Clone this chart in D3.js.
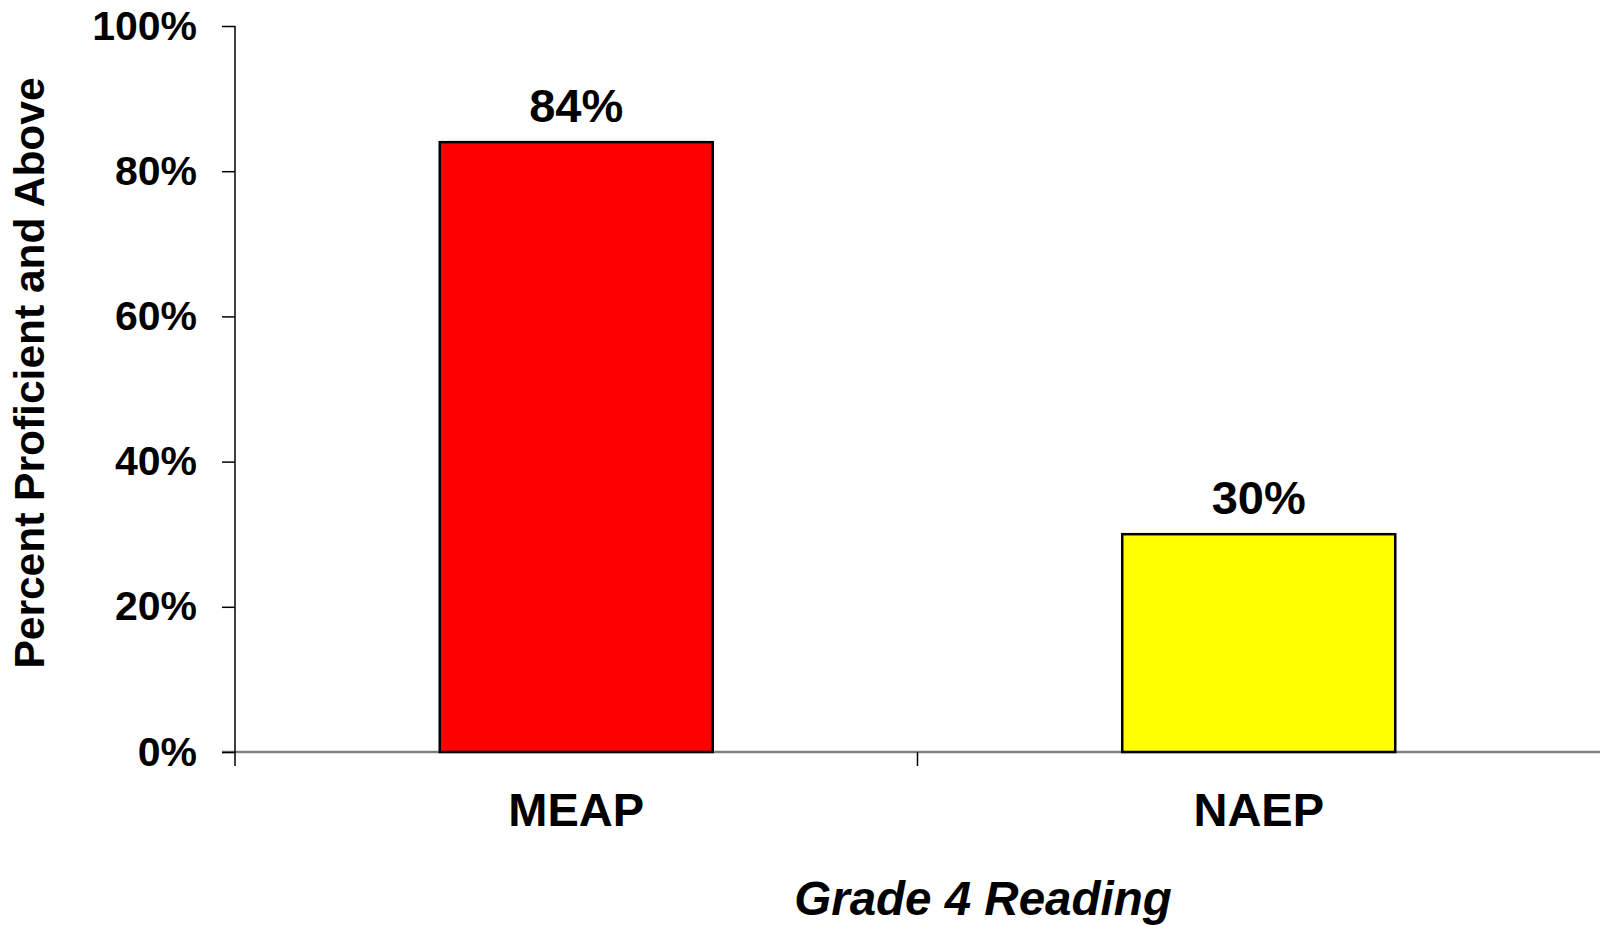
<!DOCTYPE html>
<html>
<head>
<meta charset="utf-8">
<script src="https://cdn.jsdelivr.net/npm/d3@7/dist/d3.min.js"></script>
<style>
  body { margin: 0; background: #fff; }
  svg { display: block; }
  text { font-family: "Liberation Sans", Arial, sans-serif; font-weight: bold; fill: #000; }
</style>
</head>
<body>
<svg id="chart" width="1600" height="925"></svg>
<script>
// data
var categories = ["MEAP", "NAEP"];
var values = [0.84, 0.30];
var barColors = ["#ff0000", "#ffff00"];
var yTicks = [0, 0.2, 0.4, 0.6, 0.8, 1.0];
var yTitle = "Percent Proficient and Above";
var xTitle = "Grade 4 Reading";

var svg = d3.select("#chart");
// plot area (note: "top" is taken by window.top, so use other names)
var plotLeft = 235, plotRight = 1600, plotTop = 26, plotBottom = 752;

var x = d3.scaleBand()
	.domain(categories)
	.range([plotLeft, plotRight])
	.paddingInner(0.6)
	.paddingOuter(0.3);

var y = d3.scaleLinear()
	.domain([0, 1])
	.range([plotBottom, plotTop]);

// x axis line (grey) and category separators
svg.append("line")
	.attr("x1", plotLeft - 13).attr("x2", plotRight)
	.attr("y1", y(0)).attr("y2", y(0))
	.attr("stroke", "#808080")
	.attr("stroke-width", 2.5);

var step = x.step();
var seps = d3.range(1, categories.length).map(function(i) {
	return plotLeft + step * i;
});
svg.selectAll(".xsep")
	.data(seps)
	.enter()
	.append("line")
	.attr("x1", function(d) { return d; })
	.attr("x2", function(d) { return d; })
	.attr("y1", y(0))
	.attr("y2", y(0) + 14)
	.attr("stroke", "#000")
	.attr("stroke-width", 1.5);

// y axis
var yAxis = d3.axisLeft(y)
	.tickValues(yTicks)
	.tickFormat(d3.format(".0%"))
	.tickSize(13)
	.tickPadding(25);

var gy = svg.append("g")
	.attr("transform", "translate(" + plotLeft + ",0)")
	.call(yAxis);
gy.select(".domain").remove();
gy.selectAll(".tick line").attr("stroke", "#000").attr("stroke-width", 1.5);
gy.selectAll(".tick text")
	.attr("font-size", 41)
	.attr("font-family", "Liberation Sans, Arial, sans-serif")
	.attr("font-weight", "bold")
	.attr("fill", "#000");

svg.append("line")
	.attr("x1", plotLeft).attr("x2", plotLeft)
	.attr("y1", plotTop).attr("y2", y(0) + 14)
	.attr("stroke", "#000")
	.attr("stroke-width", 1.5);

// bars
svg.selectAll(".bar")
	.data(values)
	.enter()
	.append("rect")
	.attr("x", function(d, i) { return x(categories[i]); })
	.attr("y", function(d) { return y(d); })
	.attr("width", x.bandwidth())
	.attr("height", function(d) { return y(0) - y(d); })
	.attr("fill", function(d, i) { return barColors[i]; })
	.attr("stroke", "#000")
	.attr("stroke-width", 2.5);

// value labels
svg.selectAll(".val")
	.data(values)
	.enter()
	.append("text")
	.attr("x", function(d, i) { return x(categories[i]) + x.bandwidth() / 2; })
	.attr("y", function(d) { return y(d) - 20; })
	.attr("text-anchor", "middle")
	.attr("font-size", 47)
	.text(function(d) { return d3.format(".0%")(d); });

// category labels
svg.selectAll(".cat")
	.data(categories)
	.enter()
	.append("text")
	.attr("x", function(d) { return x(d) + x.bandwidth() / 2; })
	.attr("y", 826)
	.attr("text-anchor", "middle")
	.attr("font-size", 47)
	.text(function(d) { return d; });

// axis titles
svg.append("text")
	.attr("x", 983)
	.attr("y", 915)
	.attr("text-anchor", "middle")
	.attr("font-size", 47.5)
	.attr("font-style", "italic")
	.text(xTitle);

svg.append("text")
	.attr("transform", "translate(44,373) rotate(-90)")
	.attr("text-anchor", "middle")
	.attr("font-size", 42.5)
	.text(yTitle);
</script>
</body>
</html>
